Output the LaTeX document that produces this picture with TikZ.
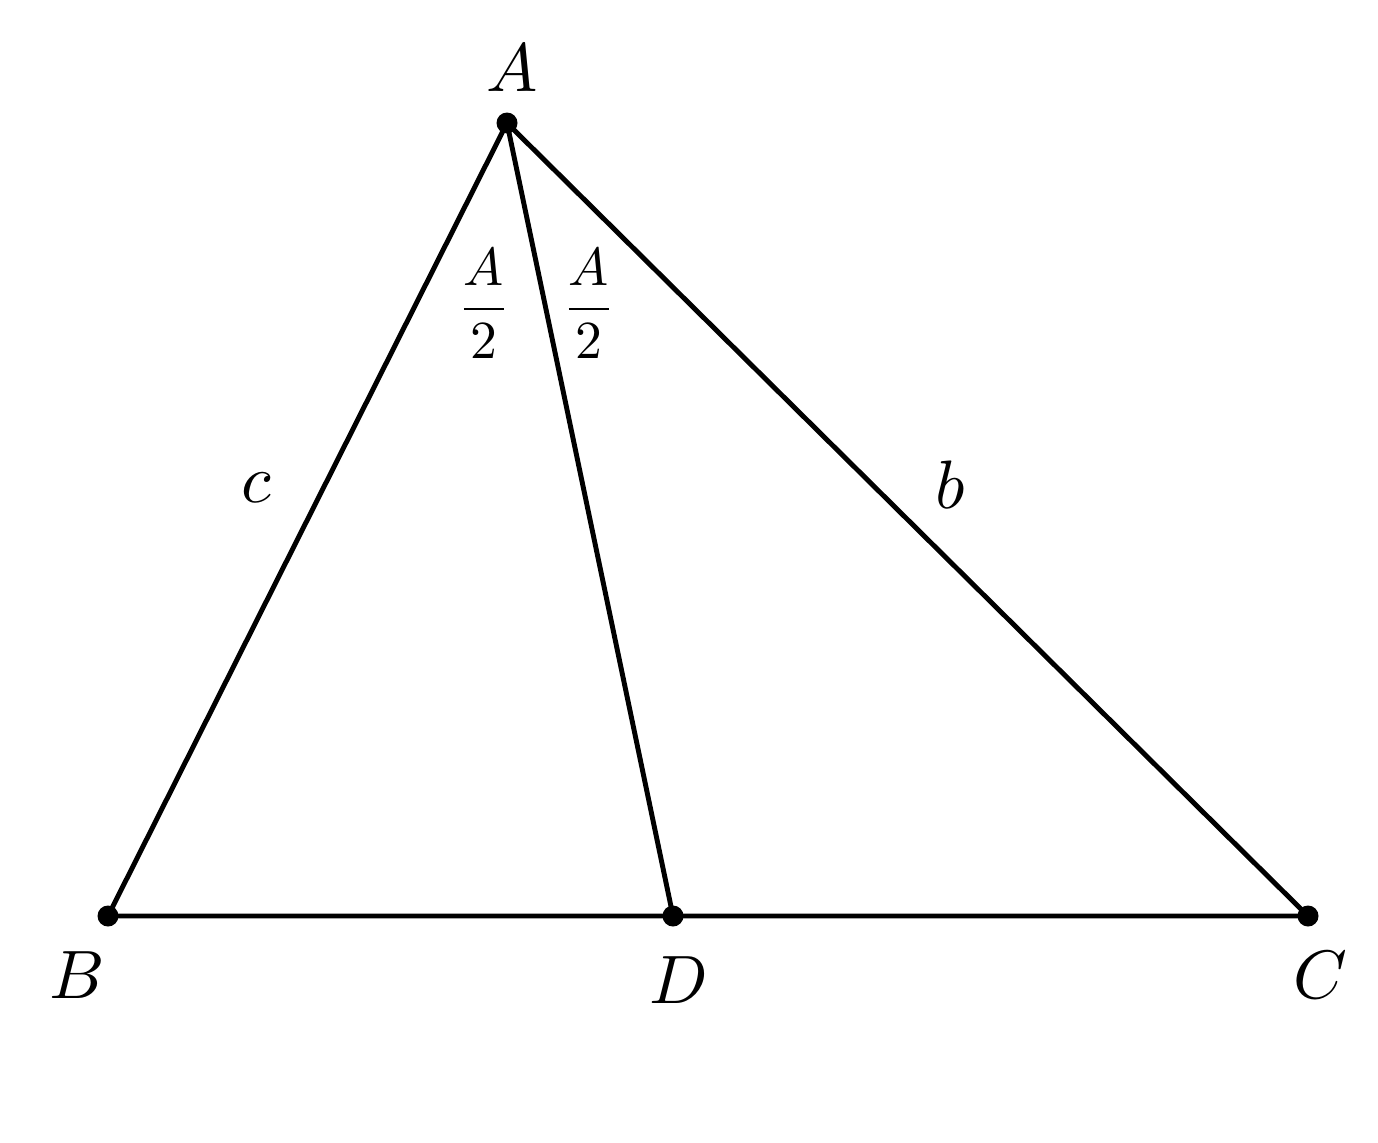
\documentclass[tikz,border=0pt]{standalone}
\usepackage{graphicx}
\newcommand{\myenlarge}[1]{\scalebox{3.9}{#1}}
\newcommand{\myfrac}[1]{\scalebox{3.05}{#1}}
\begin{document}
\begin{tikzpicture}[x=0.02cm,y=-0.02cm,
  dot/.style={circle,fill=black,inner sep=0pt,minimum size=0.42cm},
  edge/.style={line width=2.8pt},
  lbl/.style={inner sep=0pt}]
\useasboundingbox (0,0) rectangle (1378,1142);
\coordinate (A) at (507,123);
\coordinate (B) at (108,916);
\coordinate (D) at (673,916);
\coordinate (C) at (1308,916);
\draw[edge] (A) -- (B) -- (C) -- cycle;
\draw[edge] (A) -- (D);
\node[dot] (dA) at (A) {};
\node[dot] (dB) at (B) {};
\node[dot] (dD) at (D) {};
\node[dot] (dC) at (C) {};
\node[lbl] (lA) at (512,68) {\myenlarge{$A$}};
\node[lbl] (lB) at (77,975) {\myenlarge{$B$}};
\node[lbl] (lD) at (679,980) {\myenlarge{$D$}};
\node[lbl] (lC) at (1320,975) {\myenlarge{$C$}};
\node[lbl] (lc) at (256,488) {\myenlarge{$c$}};
\node[lbl] (lb) at (950,485) {\myenlarge{$b$}};
\node[lbl] (f1) at (484,304) {\myfrac{$\displaystyle\frac{A}{2}$}};
\node[lbl] (f2) at (589,304) {\myfrac{$\displaystyle\frac{A}{2}$}};
\end{tikzpicture}
\end{document}
